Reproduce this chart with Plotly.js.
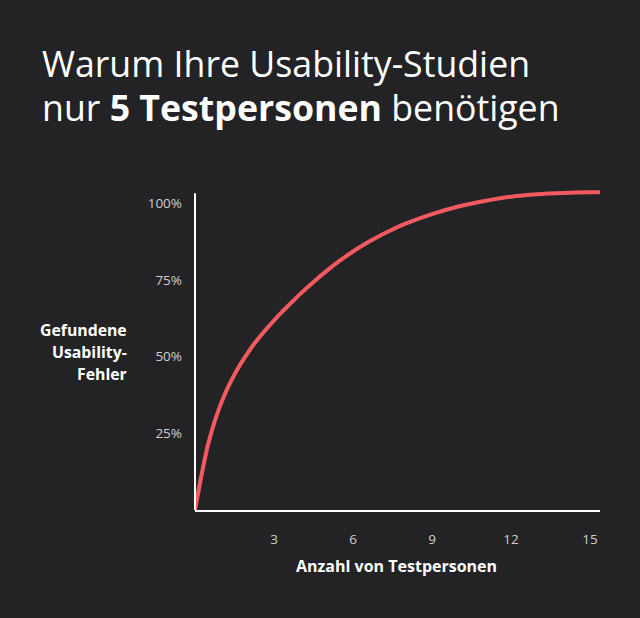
<!DOCTYPE html>
<html>
<head>
<meta charset="utf-8">
<script src="https://cdn.plot.ly/plotly-3.0.1.min.js"></script>
<style>html,body{margin:0;padding:0;background:#232326;}</style>
</head>
<body>
<div id="chart" style="width:640px;height:618px;"></div>
<script>
// Data
const testUsers = [0, 0.25, 0.5, 0.75, 1, 1.25, 1.5, 1.75, 2, 2.25, 2.5, 2.75, 3, 3.25, 3.5, 3.75, 4, 4.5, 5, 5.5, 6, 6.5, 7, 7.5, 8, 9, 10, 11, 12, 13, 14, 15, 15.38];
const problemsFound = [0, 11.5, 21.5, 29, 35, 40, 44.2, 47.9, 51.2, 54.2, 56.9, 59.4, 61.8, 64.1, 66.3, 68.4, 70.5, 74.4, 78, 81.3, 84.3, 87, 89.4, 91.5, 93.4, 96.5, 99, 100.8, 102.2, 103, 103.4, 103.6, 103.6];
const xTickVals = [3, 6, 9, 12, 15];
const xTickText = ['3', '6', '9', '12', '15'];
const yTickVals = [25, 50, 75, 100];
const yTickText = ['25%', '50%', '75%', '100%'];
const titleLine1 = 'Warum Ihre Usability-Studien';
const titleLine2 = 'nur <b>5 Testpersonen</b> benötigen';
const yTitleLines = ['Gefundene', 'Usability-', 'Fehler'];
const xTitle = 'Anzahl von Testpersonen';

const W = 640, H = 618;
const L = 195, R = 40, T = 185, B = 108;
const plotW = W - L - R, plotH = H - T - B;
const px = x => (x - L) / plotW;
const py = y => (H - B - y) / plotH;

const font = 'Open Sans, Noto Sans, sans-serif';

const annotations = [
  {text: titleLine1, x: px(40), y: py(63), xanchor: 'left', yanchor: 'middle',
   font: {family: font, size: 35.7, color: '#ffffff', weight: 400}},
  {text: titleLine2, x: px(40), y: py(107), xanchor: 'left', yanchor: 'middle',
   font: {family: font, size: 35.7, color: '#ffffff', weight: 400}},
  {text: xTitle, x: px(396), y: py(566), xanchor: 'center', yanchor: 'middle',
   font: {family: font, size: 16, color: '#ffffff', weight: 700}}
];
const yTitleY = [330, 352, 374];
yTitleLines.forEach((t, i) => annotations.push({
  text: t, x: px(129), y: py(yTitleY[i]), xanchor: 'right', yanchor: 'middle',
  font: {family: font, size: 15.8, color: '#ffffff', weight: 700}
}));
annotations.forEach(a => { a.xref = 'paper'; a.yref = 'paper'; a.showarrow = false; });

const trace = {
  x: testUsers, y: problemsFound, type: 'scatter', mode: 'lines',
  line: {color: '#f25a5f', width: 4, shape: 'spline', smoothing: 0.9},
  hoverinfo: 'skip'
};

const layout = {
  width: W, height: H,
  margin: {l: L, r: R, t: T, b: B, pad: 0},
  paper_bgcolor: '#232326', plot_bgcolor: '#232326',
  showlegend: false,
  xaxis: {
    range: [0, 15.38], tickvals: xTickVals, ticktext: xTickText,
    showgrid: false, zeroline: false, showline: true, linecolor: '#ffffff', linewidth: 2,
    ticks: '', ticklabelstandoff: 16,
    tickfont: {family: font, size: 13.5, color: '#cfcfcf'}, fixedrange: true
  },
  yaxis: {
    range: [0, 106], tickvals: yTickVals, ticktext: yTickText,
    showgrid: false, zeroline: false, showline: false,
    ticks: '', ticklabelstandoff: 12,
    tickfont: {family: font, size: 13.5, color: '#cfcfcf'}, fixedrange: true
  },
  shapes: [{type: 'line', xref: 'paper', yref: 'y', x0: 0, x1: 0, y0: 0, y1: 103.3,
            line: {color: '#ffffff', width: 2}, layer: 'above'}],
  annotations: annotations
};

Plotly.newPlot('chart', [trace], layout, {displayModeBar: false, staticPlot: true});
</script>
</body>
</html>
